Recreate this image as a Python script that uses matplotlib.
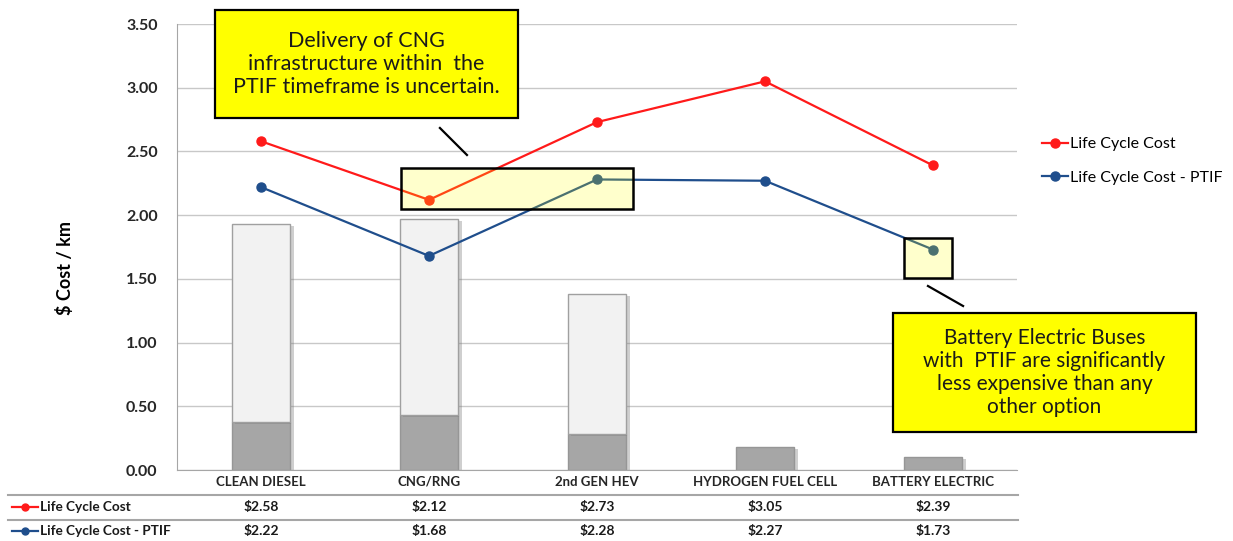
import matplotlib
matplotlib.use("Agg")
import matplotlib.pyplot as plt
import matplotlib.patches as mpatches
import matplotlib.patheffects as pe
from matplotlib.lines import Line2D
import matplotlib.transforms as mtransforms
import numpy as np

categories = ['CLEAN DIESEL', 'CNG/RNG', '2nd GEN HEV', 'HYDROGEN FUEL CELL', 'BATTERY ELECTRIC']
life_cycle_cost = [2.58, 2.12, 2.73, 3.05, 2.39]
life_cycle_cost_ptif = [2.22, 1.68, 2.28, 2.27, 1.73]
bar_dark = [0.38, 0.43, 0.28, 0.18, 0.10]
bar_light = [1.55, 1.54, 1.10, 0.0, 0.0]
yticks = [0.0, 0.5, 1.0, 1.5, 2.0, 2.5, 3.0, 3.5]
series_names = ['Life Cycle Cost', 'Life Cycle Cost - PTIF']
note_cng = "Delivery of CNG\ninfrastructure within  the\nPTIF timeframe is uncertain."
note_bev = "Battery Electric Buses\nwith  PTIF are significantly\nless expensive than any\nother option"

RED = '#FF1A1A'
BLUE = '#1F4E8C'
W, H = 1233, 541
CAL = ['Lato', 'DejaVu Sans']

fig = plt.figure(figsize=(W / 100, H / 100), dpi=100)
ax = fig.add_axes([177 / W, 71 / H, 840 / W, 446 / H])
x = np.arange(len(categories))

shadow = [pe.SimplePatchShadow(offset=(2.5, -1.5), shadow_rgbFace='#777777', alpha=0.35), pe.Normal()]
b1 = ax.bar(x, bar_dark, width=0.35, color='#A6A6A6', edgecolor='#969696', linewidth=1, zorder=2)
b2 = ax.bar(x, bar_light, bottom=bar_dark, width=0.35, color='#F2F2F2', edgecolor='#A0A0A0', linewidth=1, zorder=2)
for p in list(b1) + list(b2):
    if p.get_height() > 0:
        p.set_path_effects(shadow)
    else:
        p.set_visible(False)

l1, = ax.plot(x, life_cycle_cost, color=RED, lw=1.6, marker='o', ms=6.5, zorder=4, label=series_names[0])
l2, = ax.plot(x, life_cycle_cost_ptif, color=BLUE, lw=1.6, marker='o', ms=6.5, zorder=4, label=series_names[1])

ax.set_xlim(-0.5, 4.5)
ax.set_ylim(0, 3.5)
ax.set_yticks(yticks)
ax.set_yticklabels([f"{v:.2f}" for v in yticks], fontfamily=CAL, fontweight='bold', fontsize=11.5, color='#262626')
ax.set_xticks(x)
ax.set_xticklabels(categories, fontfamily=CAL, fontweight='bold', fontsize=9.5, color='#262626')
ax.tick_params(axis='x', length=0, pad=4)
ax.tick_params(axis='y', length=0, pad=14)
ax.grid(axis='y', color='#C8C8C8', lw=1, zorder=0)
ax.set_axisbelow(True)
for s in ['top', 'right']:
    ax.spines[s].set_visible(False)
ax.spines['left'].set_color('#A6A6A6')
ax.spines['bottom'].set_color('#A6A6A6')
ax.set_ylabel('$ Cost / km', fontfamily=CAL, fontweight='bold', fontsize=13, va='center')
ax.yaxis.set_label_coords(-0.133, 0.453)

# highlight boxes (data coords)
for (x0, y0, x1, y1) in [(0.833, 2.048, 2.214, 2.37), (3.827, 1.507, 4.113, 1.82)]:
    ax.add_patch(mpatches.Rectangle((x0, y0), x1 - x0, y1 - y0, facecolor=(1, 1, 0, 0.2),
                                    edgecolor='black', lw=1.8, zorder=5))
# connector lines
ax.plot([1.065, 1.226], [2.684, 2.472], color='black', lw=1.6, zorder=5)
ax.plot([3.970, 4.179], [1.444, 1.287], color='black', lw=1.6, zorder=5)

# note boxes (figure pixel coords)
def note(x0, y0, x1, y1, txt, size):
    fig.patches.append(mpatches.Rectangle((x0 / W, 1 - y1 / H), (x1 - x0) / W, (y1 - y0) / H,
                                          transform=fig.transFigure, facecolor='#FFFF00',
                                          edgecolor='black', lw=1.6, zorder=6))
    fig.text((x0 + x1) / 2 / W, 1 - (y0 + y1) / 2 / H, txt, ha='center', va='center',
             fontfamily=CAL, fontsize=size, linespacing=1.2, color='#1a1a1a', zorder=7)

note(215, 10, 518, 118, note_cng, 15.5)
note(893, 313, 1196, 432, note_bev, 15)

# legend
ax.legend(handles=[l1, l2], loc='center left', bbox_to_anchor=(1028 / W, 1 - 161 / H),
          bbox_transform=fig.transFigure, frameon=False, handlelength=1.6, handletextpad=0.1,
          labelspacing=1.2, prop={'family': CAL, 'size': 11.5})

# data table below
trans = mtransforms.blended_transform_factory(ax.transData, fig.transFigure)
for yl in [495, 520]:
    fig.add_artist(Line2D([8 / W, 1018 / W], [1 - yl / H, 1 - yl / H], color='#A6A6A6', lw=1.5))
rows = [(507, RED, life_cycle_cost, series_names[0]), (531, BLUE, life_cycle_cost_ptif, series_names[1])]
for yp, col, vals, name in rows:
    yf = 1 - yp / H
    fig.add_artist(Line2D([12 / W, 25 / W, 38 / W], [yf, yf, yf], color=col, lw=1.6, marker='o',
                          ms=5, markevery=[1]))
    fig.text(40 / W, yf, name, ha='left', va='center', fontfamily=CAL, fontweight='bold',
             fontsize=9.8, color='#1a1a1a')
    for i, v in enumerate(vals):
        fig.text(i, yf, f"${v:.2f}", transform=trans, ha='center', va='center', fontfamily=CAL,
                 fontweight='bold', fontsize=10, color='#1a1a1a')

fig.savefig('out.png', dpi=100)
